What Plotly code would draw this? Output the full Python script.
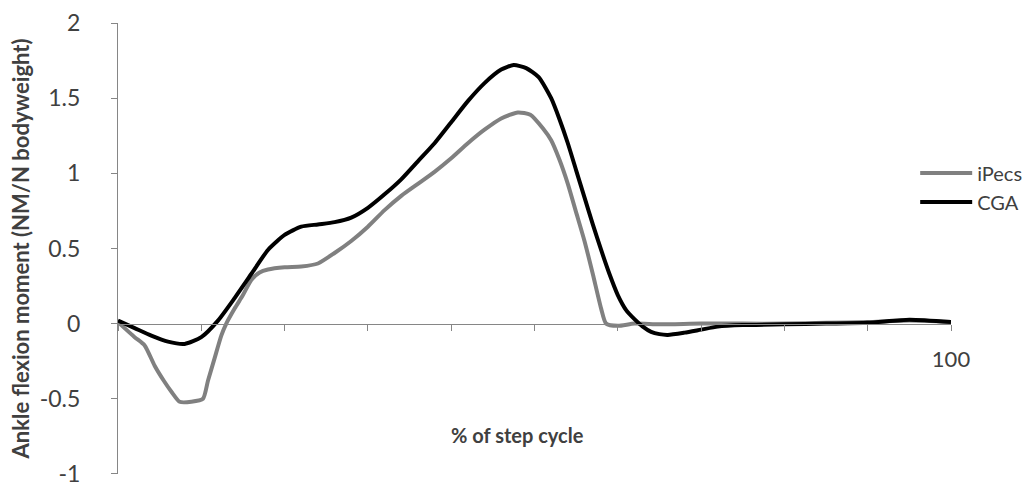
import plotly.graph_objects as go

# % of step cycle / ankle flexion moment
cga_x = [0, 2, 4, 6, 8, 10, 12, 14, 16, 18, 20, 22, 24, 26, 28, 30, 32, 34, 36, 38,
         40, 42, 44, 46, 47.5, 49, 50.5, 52, 53, 54, 55, 56, 57, 58, 59, 60, 61, 62,
         63, 64, 65, 66, 68, 70, 72, 75, 80, 85, 90, 95, 100]
cga_y = [0.02, -0.03, -0.08, -0.12, -0.135, -0.09, 0.02, 0.17, 0.33, 0.49, 0.59, 0.645,
         0.66, 0.675, 0.705, 0.77, 0.86, 0.96, 1.08, 1.2, 1.34, 1.48, 1.6, 1.69, 1.72, 1.7,
         1.64, 1.5, 1.36, 1.2, 1.02, 0.84, 0.66, 0.49, 0.33, 0.19, 0.09, 0.03, -0.02,
         -0.055, -0.07, -0.075, -0.06, -0.04, -0.02, -0.01, -0.005, 0.0, 0.005, 0.025, 0.01]

ipecs_x = [0, 2, 3.2, 4.4, 5.5, 6.5, 7.4, 8.8, 10.2, 10.8, 11.6, 12.4, 13, 14, 15, 16,
           17, 18, 20, 22, 24, 26, 28, 30, 32, 34, 36, 38, 40, 42, 44, 46, 48, 49.5, 51,
           52, 53, 54, 55, 56, 57, 58, 58.6, 60, 62, 65, 70, 75, 80, 85, 90, 95, 100]
ipecs_y = [0.01, -0.09, -0.145, -0.28, -0.38, -0.46, -0.52, -0.52, -0.5, -0.38, -0.23,
           -0.08, 0.0, 0.1, 0.19, 0.29, 0.34, 0.36, 0.375, 0.38, 0.4, 0.47, 0.55, 0.645,
           0.755, 0.85, 0.93, 1.01, 1.1, 1.2, 1.29, 1.365, 1.405, 1.39, 1.3, 1.22, 1.09,
           0.93, 0.74, 0.55, 0.33, 0.1, 0.0, -0.015, 0.0, -0.005, 0.0, 0.0, 0.0, 0.005,
           0.01, 0.02, 0.01]

x_ticks = list(range(0, 101, 10))
x_ticktext = [""] * 10 + ["100"]
y_ticks = [-1, -0.5, 0, 0.5, 1, 1.5, 2]
y_ticktext = ["-1", "-0.5", "0", "0.5", "1", "1.5", "2"]

FONT = "Lato"
TEXT = "#404040"
AXIS = "#868686"

fig = go.Figure()
fig.add_trace(go.Scatter(x=ipecs_x, y=ipecs_y, name="iPecs", mode="lines",
                         line=dict(color="#808080", width=4, shape="spline", smoothing=0.6)))
fig.add_trace(go.Scatter(x=cga_x, y=cga_y, name="CGA", mode="lines",
                         line=dict(color="#000000", width=4, shape="spline", smoothing=0.6)))

fig.update_layout(
    width=1029, height=486,
    margin=dict(l=118, r=78, t=23, b=12, autoexpand=False),
    paper_bgcolor="white", plot_bgcolor="white",
    font=dict(family=FONT, color=TEXT, size=22),
    showlegend=True,
    legend=dict(x=0.957, y=0.635, xanchor="left", yanchor="middle",
                font=dict(size=20, color=TEXT), itemwidth=52,
                bgcolor="rgba(0,0,0,0)"),
    xaxis=dict(range=[0, 100], anchor="free", position=1 / 3, automargin=False,
               tickvals=x_ticks, ticktext=x_ticktext, ticks="outside", ticklen=6,
               tickcolor=AXIS, showline=True, linecolor=AXIS, linewidth=1,
               showgrid=False, zeroline=False, ticklabelstandoff=10,
               ticklabeloverflow="allow", tickfont=dict(size=22, color=TEXT)),
    yaxis=dict(range=[-1.0005, 2], tickvals=y_ticks, ticktext=y_ticktext,
               automargin=False, ticks="outside", ticklen=6, tickcolor=AXIS,
               showline=True, linecolor=AXIS, linewidth=1, showgrid=False,
               zeroline=False, ticklabelstandoff=26, ticklabeloverflow="allow",
               tickfont=dict(size=23, color=TEXT),
               title=dict(text="<b>Ankle flexion moment (NM/N bodyweight)</b>",
                          font=dict(size=22, color=TEXT), standoff=4)),
    annotations=[dict(text="<b>% of step cycle</b>", x=0.479, y=0.055,
                      xref="paper", yref="paper", showarrow=False,
                      font=dict(size=20, color=TEXT))],
)

fig.write_html("out.html", config={"displayModeBar": False},
               post_script="document.body.style.margin='0';")
